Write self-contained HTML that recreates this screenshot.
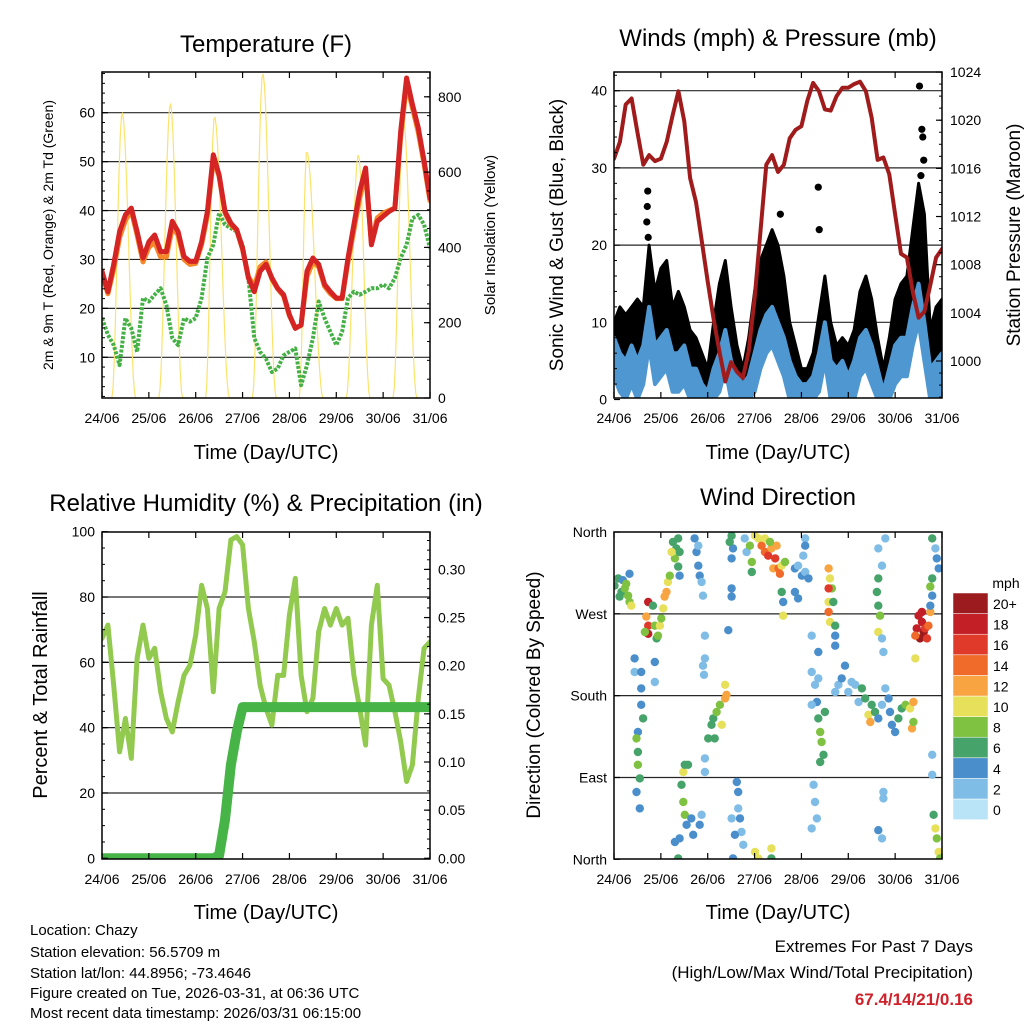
<!DOCTYPE html>
<html><head><meta charset="utf-8"><style>
body{margin:0;background:#fff}
svg text{font-family:"Liberation Sans",sans-serif;fill:#000}
</style></head><body>
<svg id="s" width="1024" height="1024" viewBox="0 0 1024 1024" xmlns="http://www.w3.org/2000/svg">
<defs>
<clipPath id="cT"><rect x="102" y="72" width="328" height="326"/></clipPath>
<clipPath id="cW"><rect x="614" y="72" width="328" height="326"/></clipPath>
<clipPath id="cR"><rect x="102" y="532" width="328" height="327"/></clipPath>
<clipPath id="cD"><rect x="614" y="532" width="328" height="327"/></clipPath>
</defs>
<text x="266" y="52" font-size="24" text-anchor="middle">Temperature (F)</text>
<text x="778" y="46" font-size="24" text-anchor="middle">Winds (mph) &amp; Pressure (mb)</text>
<text x="266" y="511" font-size="24" text-anchor="middle">Relative Humidity (%) &amp; Precipitation (in)</text>
<text x="778" y="505" font-size="24" text-anchor="middle">Wind Direction</text>
<text x="266" y="459" font-size="20" text-anchor="middle">Time (Day/UTC)</text>
<text x="778" y="459" font-size="20" text-anchor="middle">Time (Day/UTC)</text>
<text x="266" y="919" font-size="20" text-anchor="middle">Time (Day/UTC)</text>
<text x="778" y="919" font-size="20" text-anchor="middle">Time (Day/UTC)</text>
<text transform="translate(53,235) rotate(-90)" font-size="14" text-anchor="middle">2m &amp; 9m T (Red, Orange) &amp; 2m Td (Green)</text>
<text transform="translate(495,235) rotate(-90)" font-size="15" text-anchor="middle">Solar Insolation (Yellow)</text>
<text transform="translate(563,235) rotate(-90)" font-size="19" text-anchor="middle">Sonic Wind &amp; Gust (Blue, Black)</text>
<text transform="translate(1020,235) rotate(-90)" font-size="19" text-anchor="middle">Station Pressure (Maroon)</text>
<text transform="translate(47,695) rotate(-90)" font-size="20" text-anchor="middle">Percent &amp; Total Rainfall</text>
<text transform="translate(540,695) rotate(-90)" font-size="19" text-anchor="middle">Direction (Colored By Speed)</text>
<g font-size="15">
<text x="30" y="935">Location: Chazy</text>
<text x="30" y="957">Station elevation: 56.5709 m</text>
<text x="30" y="978">Station lat/lon: 44.8956; -73.4646</text>
<text x="30" y="998">Figure created on Tue, 2026-03-31, at 06:36 UTC</text>
<text x="30" y="1018">Most recent data timestamp: 2026/03/31 06:15:00</text>
</g>
<g font-size="17" text-anchor="end">
<text x="973" y="952">Extremes For Past 7 Days</text>
<text x="973" y="978">(High/Low/Max Wind/Total Precipitation)</text>
<text x="973" y="1005" font-weight="bold" style="fill:#d0202a">67.4/14/21/0.16</text>
</g>
<g id="layer"></g>
</svg>
<script>
// ---- data (3-hourly samples from 24/06 00 UTC) ----
const dayLabels=["24/06","25/06","26/06","27/06","28/06","29/06","30/06","31/06"];
const temp2m=[27.6,23.4,29,35.7,39.1,40.5,35.7,30.3,33.6,35,31.6,31.6,37.8,35.7,30.6,29.6,29.6,33.6,39.8,51.4,47.3,39.8,37.4,36.1,32.3,26.2,23.4,27.6,29,26.2,24.1,22.8,18.7,15.9,16.6,27.6,30.3,29,24.9,23.4,22.1,22.1,30.3,37.1,43.9,48.7,33,37.8,38.8,39.8,40.5,56.2,67.1,61.7,56.9,50.1,42.5];
const temp9m=[27,23,28,34.5,38,40,35,29.5,32.5,33.5,30.5,30.5,36.5,35,30,29,29.2,33,39,50.5,47,39.5,37,36,32,26.5,24.5,28.5,29.5,26,24,22.5,18.5,16,16.5,26.5,29.5,28.5,24.5,23,22,22,29.5,36,42.5,47.5,33.5,38.5,39.5,40,40.5,55,66,61,56,49.5,42];
const dewpt=[18,14.6,12.5,8.4,18,15.9,11.1,22.1,21.4,22.8,24.1,20.7,13.9,12.5,18,17.3,18,22.1,30.3,33,39.5,37.1,36.4,35.7,33,26.2,13.9,11.1,9.7,7,7.7,10.4,11.1,11.8,4.3,8.4,13.9,21.4,18,15.2,12.5,15.2,22.1,23.4,22.8,23.4,24.1,24.1,24.9,24.1,26.2,30.3,33,38.4,39.1,37.1,32.3];
const solarPeak=[757,783,748,863,655,646,743];
const solarPeakTime=[0.43,0.46,0.40,0.43,0.37,0.47,0.43];
const windMean=[8,6,5,7,5,7,12,7,8,9,6,6,7,4,4,2,1,4,6,9,5,3,2,3,6,9,11,12,10,8,5,3,2,2,3,6,10,5,4,5,3,5,8,9,7,4,1,4,7,8,8,12,15,10,4,5,6];
const windGust=[10,12,11,12,13,12,20,14,17,18,12,14,12,9,8,6,4,10,15,18,12,7,4,8,14,18,20,22,20,16,10,7,4,4,6,11,16,10,7,8,7,9,14,16,13,8,4,8,13,15,16,22,28,24,9,12,13];
const gustOutT=[0.72,0.71,0.7,0.73,3.55,4.36,4.38,6.52,6.57,6.59,6.61,6.55];
const gustOutV=[27,25,23,21,24,27.5,22,40.6,35,34,31,29];
const pressure=[1016.8,1018.2,1021.3,1021.8,1019,1016.3,1017.1,1016.6,1016.8,1018.2,1020.4,1022.4,1019.9,1015.2,1013.2,1009.9,1006.6,1003.5,1000.8,998.3,999.9,999.1,998.6,1000.8,1005.2,1010.7,1016.3,1017.1,1015.7,1016.3,1018.5,1019.2,1019.5,1021.6,1023.1,1022.4,1020.9,1020.8,1022,1022.7,1022.7,1023,1023.2,1022.4,1020.2,1016.7,1016.9,1015.5,1012.2,1008.9,1008.6,1005.8,1003.6,1004.1,1006.3,1008.6,1009.3];
const rh=[67.3,71.4,53,32.6,42.8,30.6,61.2,71.4,61.2,64.3,51,42.8,38.7,47.9,56,59.1,68.3,83.6,76.5,51,76.5,81.6,97.5,98.5,96,76.5,66.3,53,45.9,40.8,56,56,74.5,85.7,56,44.9,49,69.4,76.5,71.4,76.5,71.4,73.5,56,45.9,34.7,71.4,83.6,55,53,44.9,35.7,23.5,28.6,49,64.3,66.3];
const precip=[0,0,0,0,0,0,0,0,0,0,0,0,0,0,0,0,0,0,0,0,0.003,0.04,0.097,0.131,0.157,0.157,0.157,0.157,0.157,0.157,0.157,0.157,0.157,0.157,0.157,0.157,0.157,0.157,0.157,0.157,0.157,0.157,0.157,0.157,0.157,0.157,0.157,0.157,0.157,0.157,0.157,0.157,0.157,0.157,0.157,0.157,0.157];
const dirTime=[0.01,0.09,0.16,0.23,0.30,0.33,0.37,0.19,0.12,0.26,0.33,
0.73,0.69,0.73,0.73,0.66,0.83,0.87,0.91,0.98,1.05,1.08,1.12,1.15,1.19,1.01,0.94,
0.44,0.44,0.58,0.58,0.58,0.62,0.51,0.48,0.51,0.51,0.55,0.48,0.55,0.87,0.87,
1.26,1.33,1.30,1.37,1.40,1.37,1.40,1.23,
1.72,1.76,1.80,1.83,1.80,1.87,1.90,
1.48,1.51,1.58,1.44,1.48,1.51,1.55,1.65,1.69,1.40,1.30,1.37,
2.01,2.08,2.12,2.19,2.26,2.37,2.40,2.37,2.15,2.30,1.94,1.94,1.90,1.92,1.94,1.94,1.87,1.83,
2.51,2.54,2.51,2.47,2.79,2.83,2.51,2.51,2.44,
2.62,2.65,2.65,2.69,2.72,2.58,2.54,2.51,2.76,3.01,3.08,3.36,3.36,
3.01,3.08,3.15,3.22,3.29,3.36,3.44,3.40,3.51,3.58,3.65,3.54,3.47,3.22,3.33,2.94,2.94,2.90,3.58,3.61,3.61,
3.86,3.93,4.01,4.08,4.15,3.86,3.93,4.04,4.08,4.08,
4.58,4.61,4.65,4.58,4.58,4.58,4.61,4.68,4.72,4.72,4.72,
4.22,4.29,4.33,4.22,4.36,4.40,4.43,4.47,4.40,4.50,4.36,4.26,4.29,4.33,4.22,4.22,4.36,
4.72,4.79,4.86,4.93,5.00,5.07,5.15,5.22,5.29,5.36,5.43,5.47,5.50,5.57,5.64,5.72,5.79,5.86,5.89,5.93,6.00,6.07,6.14,6.22,6.32,6.39,6.36,6.39,
5.64,5.61,5.64,5.68,5.64,5.72,5.75,5.72,5.79,5.64,
6.50,6.57,6.61,6.46,6.53,6.64,6.71,6.68,6.43,6.57,6.75,6.43,
6.79,6.86,6.89,6.93,6.79,6.75,6.79,6.75,6.79,6.79,6.82,6.86,6.89,6.93,6.96,5.75,5.75,5.64,5.72];
const dirDeg=[301,309,294,298,290,283,279,307,289,303,314,
283,267,257,248,250,279,257,243,257,276,289,294,305,312,265,246,
221,206,206,188,170,155,140,133,118,104,89,74,56,217,195,
349,342,331,353,338,322,312,338,
353,338,323,312,345,305,290,
96,104,104,82,63,49,38,45,27,23,19,1,
133,148,155,162,170,177,181,192,133,148,246,221,213,203,111,96,49,38,
356,342,331,349,353,338,298,289,252,
85,74,56,45,30,27,1,45,16,8,1,12,1,
356,353,345,338,334,342,331,320,320,323,327,314,345,353,349,327,316,345,294,283,268,
320,323,312,316,309,294,287,334,353,345,
320,309,298,283,272,298,261,283,257,246,235,
206,192,173,170,155,140,129,115,107,162,199,82,63,45,34,246,228,
184,192,199,213,184,195,192,173,188,177,159,151,170,162,155,170,188,177,162,148,140,155,166,170,166,173,144,151,
309,294,279,268,250,243,228,323,353,342,
268,261,250,254,243,254,257,243,246,272,272,221,
353,342,331,320,309,300,290,279,115,93,49,34,23,8,1,74,67,32,23];
const dirSpeed=[6,6,5,7,8,8,9,4,5,7,4,
17,12,15,18,8,6,7,6,10,10,12,11,9,7,8,7,
4,2,4,4,4,6,4,8,6,8,5,4,4,4,2,
6,6,8,6,6,5,4,9,
3,4,4,4,2,2,2,
10,6,6,6,8,7,4,4,4,4,4,6,
6,6,6,7,8,12,12,10,6,9,2,2,2,2,2,2,2,4,
6,4,4,6,2,2,4,4,4,
4,4,2,4,2,4,4,2,2,10,10,10,6,
10,10,13,14,15,12,16,12,13,9,8,14,11,9,8,8,6,8,6,4,10,
4,2,4,2,4,4,4,2,2,4,
12,10,8,10,14,15,10,6,6,4,4,
2,2,4,2,6,8,8,6,5,6,2,2,2,2,2,2,4,
2,2,4,4,2,2,2,2,6,6,10,12,6,6,4,2,2,4,4,4,4,6,6,8,10,12,12,8,
6,6,6,8,10,2,2,2,2,2,
18,18,20,18,20,16,14,15,14,17,12,10,
6,2,4,4,6,7,4,4,2,2,6,10,8,10,8,2,2,4,2];
const speedColors=["#b9e3f7","#80bde6","#4a8fcb","#46a36a","#7fc241","#e6e05a","#f7a441","#f06a2a","#e03a2a","#c21f26","#9b1b1e"];
const speedLabels=["0","2","4","6","8","10","12","14","16","18","20+"];

// ---- helpers ----
const NS="http://www.w3.org/2000/svg";
const layer=document.getElementById('layer');
function mk(tag,attrs,parent){const e=document.createElementNS(NS,tag);for(const k in attrs)e.setAttribute(k,attrs[k]);(parent||layer).appendChild(e);return e;}
function panel(x0,x1,y0,y1){return {x0,x1,y0,y1,x:d=>x0+d*(x1-x0)/7};}
const PT=panel(102,430,72,398), PW=panel(614,942,72,398), PR=panel(102,430,532,859), PD=panel(614,942,532,859);
const yT=v=>357.3-(v-10)*4.892, yS=v=>398-v*0.3765;
const yW=v=>399.5-v*7.72, yP=v=>361-(v-1000)*12.04;
const yRH=v=>858.3-v*3.266, yPr=v=>858.3-v*963;
const yD=v=>859.3-v*0.9091;
const sampT=i=>i*0.125;
function line(P,vals,yf,attrs,clip,name){
  const pts=vals.map((v,i)=>P.x(sampT(i)).toFixed(1)+','+yf(v).toFixed(1)).join(' ');
  const el=mk('polyline',Object.assign({points:pts,fill:'none','stroke-linejoin':'round','stroke-linecap':'round','clip-path':'url(#'+clip+')'},attrs));
  
  
  return el;
}
function frame(P,name){
  const g=mk('g',{});
  
  
  mk('rect',{x:P.x0,y:P.y0,width:P.x1-P.x0,height:P.y1-P.y0,fill:'none',stroke:'#000','stroke-width':1.5},g);
  for(let d=0;d<=7;d++){const x=P.x(d);
    mk('line',{x1:x,x2:x,y1:P.y1,y2:P.y1-6,stroke:'#000','stroke-width':1.2},g);
    mk('line',{x1:x,x2:x,y1:P.y0,y2:P.y0+6,stroke:'#000','stroke-width':1.2},g);
    const t=mk('text',{x:x,y:P.y1+25,'font-size':14,'text-anchor':'middle'},g);t.textContent=dayLabels[d];
    
    
  }
  return g;
}
function grid(P,vals,yf){for(const v of vals){mk('line',{x1:P.x0,x2:P.x1,y1:yf(v),y2:yf(v),stroke:'#000','stroke-width':1.2,'stroke-opacity':0.85});}}
function yAxis(P,vals,yf,labels,side,minorStep,range){
  const left=side==='l';const xa=left?P.x0:P.x1;
  vals.forEach((v,i)=>{const y=yf(v);
    mk('line',{x1:xa,x2:left?xa+6:xa-6,y1:y,y2:y,stroke:'#000','stroke-width':1.2});
    const t=mk('text',{x:left?xa-7:xa+8,y:y+5,'font-size':14,'text-anchor':left?'end':'start'});t.textContent=labels[i];
    
    
  });
  if(minorStep){for(let v=range[0];v<=range[1]+1e-9;v+=minorStep){const y=yf(v);if(y<P.y0||y>P.y1)continue;
    mk('line',{x1:xa,x2:left?xa+3:xa-3,y1:y,y2:y,stroke:'#000','stroke-width':1});}}
}

// ---- Temperature panel ----
grid(PT,[10,20,30,40,50,60],yT);
{ // solar
  let pts=[];
  for(let d=0;d<7;d++){const rise=d+0.21,set=d+0.72,pk=d+solarPeakTime[d];
    pts.push([rise-0.05,0]);
    for(let k=0;k<=20;k++){const t=rise+(set-rise)*k/20;const f=t<pk?(t-rise)/(pk-rise):(set-t)/(set-pk);pts.push([t,solarPeak[d]*Math.pow(Math.sin(f*Math.PI/2),2)]);}
    pts.push([set+0.05,0]);}
  const el=mk('polyline',{points:pts.map(p=>PT.x(p[0]).toFixed(1)+','+yS(p[1]).toFixed(1)).join(' '),fill:'none',stroke:'#fbe36b','stroke-width':1.2,'clip-path':'url(#cT)'});
  
  
}
line(PT,dewpt,yT,{stroke:'#45b045','stroke-width':4,'stroke-dasharray':'3 1.5','stroke-linecap':'butt'},'cT','dewpoint-line');
line(PT,temp9m,yT,{stroke:'#f5862a','stroke-width':5},'cT','temp-9m-line');
line(PT,temp2m,yT,{stroke:'#d42424','stroke-width':5},'cT','temp-2m-line');
frame(PT,'temperature-frame');
yAxis(PT,[10,20,30,40,50,60],yT,["10","20","30","40","50","60"],'l',2,[2,68]);
yAxis(PT,[0,200,400,600,800],yS,["0","200","400","600","800"],'r',50,[0,850]);

// ---- Wind panel ----
grid(PW,[10,20,30,40],yW);
{
  const top=windGust.map((v,i)=>PW.x(sampT(i)).toFixed(1)+','+yW(v).toFixed(1));
  const bot=windMean.map((v,i)=>PW.x(sampT(i)).toFixed(1)+','+yW(Math.max(0,v-3)).toFixed(1)).reverse();
  const el=mk('polygon',{points:top.concat(bot).join(' '),fill:'#000',stroke:'#000','stroke-width':3,'stroke-linejoin':'round','clip-path':'url(#cW)'});
  
  
  const b1=windMean.map((v,i)=>PW.x(sampT(i)).toFixed(1)+','+yW(v).toFixed(1));
  const b2=windMean.map((v,i)=>PW.x(sampT(i)).toFixed(1)+','+yW(Math.max(0,v-5)).toFixed(1)).reverse();
  const bl=mk('polygon',{points:b1.concat(b2).join(' '),fill:'#4e97d1',stroke:'#4e97d1','stroke-width':4,'stroke-linejoin':'round','clip-path':'url(#cW)'});
  
  
  gustOutT.forEach((t,i)=>{const c=mk('circle',{cx:PW.x(t),cy:yW(gustOutV[i]),r:3.6,fill:'#000','clip-path':'url(#cW)'});
    
    });
}
line(PW,pressure,yP,{stroke:'#a01c1c','stroke-width':4},'cW','pressure-line');
frame(PW,'winds-frame');
yAxis(PW,[0,10,20,30,40],yW,["0","10","20","30","40"],'l',2,[0,42]);
yAxis(PW,[1000,1004,1008,1012,1016,1020,1024],yP,["1000","1004","1008","1012","1016","1020","1024"],'r',1,[997,1024]);

// ---- RH panel ----
grid(PR,[20,40,60,80],yRH);
line(PR,rh,yRH,{stroke:'#92c94f','stroke-width':5},'cR','humidity-line');
line(PR,precip,yPr,{stroke:'#46b446','stroke-width':10},'cR','precipitation-line');
frame(PR,'humidity-frame');
yAxis(PR,[0,20,40,60,80,100],yRH,["0","20","40","60","80","100"],'l',5,[0,100]);
yAxis(PR,[0,0.05,0.1,0.15,0.2,0.25,0.3],yPr,["0.00","0.05","0.10","0.15","0.20","0.25","0.30"],'r',0.01,[0,0.33]);

// ---- Direction panel ----
grid(PD,[90,180,270],yD);
dirTime.forEach((t,i)=>{const s=dirSpeed[i];const c=mk('circle',{cx:PD.x(t).toFixed(1),cy:yD(dirDeg[i]).toFixed(1),r:4.2,fill:speedColors[Math.min(10,Math.round(s/2))],'clip-path':'url(#cD)'});
  
  });
frame(PD,'direction-frame');
yAxis(PD,[0,90,180,270,360],yD,["North","East","South","West","North"],'l',0,null);
{ // colorbar
  const g=mk('g',{});
  
  
  const t=mk('text',{x:1006,y:588,'font-size':14,'text-anchor':'middle'},g);t.textContent='mph';
  for(let i=0;i<11;i++){const y=593+(10-i)*20.6;
    mk('rect',{x:953,y:y,width:35,height:20.6,fill:speedColors[i],stroke:'#fff','stroke-width':0.5},g);
    const l=mk('text',{x:993,y:y+16,'font-size':14},g);l.textContent=speedLabels[i];
    
    }
}
</script>
</body></html>
